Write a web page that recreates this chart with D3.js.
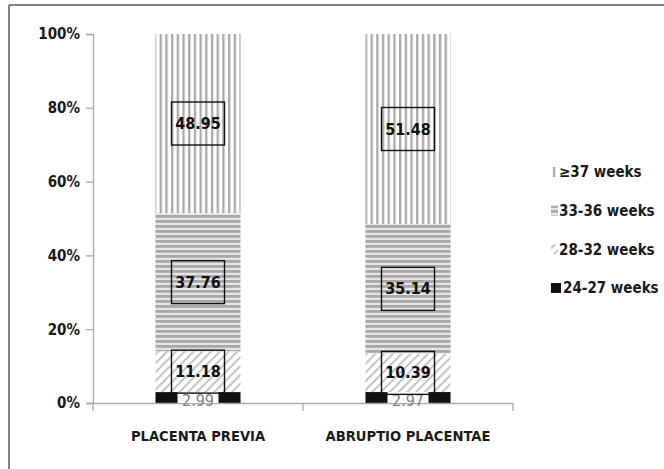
<!DOCTYPE html>
<html><head><meta charset="utf-8">
<script src="https://cdn.jsdelivr.net/npm/d3@7"></script>
<style>
body{margin:0;background:#fff;}
svg{display:block;}
text{font-family:"DejaVu Sans Condensed","DejaVu Sans",sans-serif;font-weight:bold;}
</style></head>
<body>
<svg id="chart" width="664" height="469"></svg>
<script>
const categories = ["PLACENTA PREVIA", "ABRUPTIO PLACENTAE"];
const seriesNames = ["24-27 weeks", "28-32 weeks", "33-36 weeks", "\u226537 weeks"];
const weeks24_27 = [2.99, 2.97];
const weeks28_32 = [11.18, 10.39];
const weeks33_36 = [37.76, 35.14];
const weeks37plus = [48.95, 51.48];
const yTicks = [0, 20, 40, 60, 80, 100];

const seriesValues = [weeks24_27, weeks28_32, weeks33_36, weeks37plus];
const table = categories.map((c, i) => {
  const row = {category: c};
  seriesNames.forEach((s, j) => row[s] = seriesValues[j][i]);
  return row;
});

const svg = d3.select("#chart");
const defs = svg.append("defs");

// patterns
const pV = defs.append("pattern").attr("id", "pV").attr("patternUnits", "userSpaceOnUse")
  .attr("width", 5.7).attr("height", 10);
pV.append("rect").attr("width", 5.7).attr("height", 10).attr("fill", "#fff");
pV.append("rect").attr("x", 0).attr("width", 2.3).attr("height", 10).attr("fill", "#a9a9a9");

const pH = defs.append("pattern").attr("id", "pH").attr("patternUnits", "userSpaceOnUse")
  .attr("width", 10).attr("height", 5);
pH.append("rect").attr("width", 10).attr("height", 5).attr("fill", "#e6e6e6");
pH.append("rect").attr("y", 0).attr("width", 10).attr("height", 2.8).attr("fill", "#a8a8a8");

const pD = defs.append("pattern").attr("id", "pD").attr("patternUnits", "userSpaceOnUse")
  .attr("width", 6.2).attr("height", 8).attr("patternTransform", "rotate(45)");
pD.append("rect").attr("width", 6.2).attr("height", 8).attr("fill", "#fff");
pD.append("rect").attr("x", 0).attr("width", 2).attr("height", 8).attr("fill", "#c4c4c4");

const fills = {"24-27 weeks": "#111", "28-32 weeks": "url(#pD)", "33-36 weeks": "url(#pH)", "\u226537 weeks": "url(#pV)"};

// frame
svg.append("line").attr("x1", 9).attr("y1", 5).attr("x2", 9).attr("y2", 469).attr("stroke", "#5a5a5a").attr("stroke-width", 1.5);
svg.append("line").attr("x1", 9).attr("y1", 5).attr("x2", 664).attr("y2", 5).attr("stroke", "#5a5a5a").attr("stroke-width", 1.5);

const x = d3.scaleBand().domain(categories).range([93, 513]).padding(0);
const y = d3.scaleLinear().domain([0, 1]).range([403, 34]);
const barW = x.bandwidth() * 0.405;

const stack = d3.stack().keys(seriesNames).offset(d3.stackOffsetExpand);
const series = stack(table);

const g = svg.append("g");
series.forEach(s => {
  g.selectAll(null).data(s).join("rect")
    .attr("x", d => x(d.data.category) + x.bandwidth() / 2 - barW / 2)
    .attr("width", barW)
    .attr("y", d => y(d[1]))
    .attr("height", d => y(d[0]) - y(d[1]))
    .attr("fill", fills[s.key]);
});

// y axis
const yAxisScale = d3.scaleLinear().domain([0, 100]).range([403, 34]);
const yAxis = svg.append("g").attr("transform", "translate(93,0)")
  .call(d3.axisLeft(yAxisScale).tickValues(yTicks).tickFormat(d => d + "%").tickSize(7).tickPadding(6));
yAxis.select(".domain").attr("stroke", "#aaa").attr("stroke-width", 1.3);
yAxis.selectAll(".tick line").attr("stroke", "#aaa").attr("stroke-width", 1.3);
yAxis.selectAll(".tick text").attr("fill", "#1a1a1a").style("font-size", "15px").attr("font-family", null);

// x axis
const xAxis = svg.append("g").attr("transform", "translate(0,403)")
  .call(d3.axisBottom(x).tickSize(0).tickPadding(28));
xAxis.select(".domain").attr("stroke", "#aaa").attr("stroke-width", 1.3);
xAxis.selectAll(".tick text").attr("fill", "#1a1a1a").style("font-size", "14.6px").attr("font-family", null);
// category separator ticks
const bounds = [x.range()[0]].concat(categories.map(c => x(c) + x.bandwidth()));
xAxis.selectAll(".sep").data(bounds).join("line").attr("class", "sep")
  .attr("x1", d => d).attr("x2", d => d).attr("y1", 0).attr("y2", 8)
  .attr("stroke", "#aaa").attr("stroke-width", 1.3);

// data labels
const lab = svg.append("g");
series.forEach((s, si) => {
  s.forEach(d => {
    const cx = x(d.data.category) + x.bandwidth() / 2;
    const cy = (y(d[0]) + y(d[1])) / 2;
    const v = d.data[s.key];
    if (si === 0) {
      lab.append("rect").attr("x", cx - 20.5).attr("y", y(d[1])).attr("width", 41).attr("height", y(d[0]) - y(d[1]))
        .attr("fill", "#fff");
      lab.append("text").attr("x", cx).attr("y", cy + 8).attr("text-anchor", "middle")
        .attr("fill", "#808080").style("font-weight", "normal").style("font-size", "16px").text(v.toFixed(2));
    } else {
      lab.append("rect").attr("x", cx - 26.5).attr("y", cy - 21.5).attr("width", 53).attr("height", 43)
        .attr("fill", "none").attr("stroke", "#111").attr("stroke-width", 1.4);
      lab.append("text").attr("x", cx).attr("y", cy).attr("dy", "0.35em").attr("text-anchor", "middle")
        .attr("fill", "#111").style("font-size", "16px").text(v.toFixed(2));
    }
  });
});

// legend
const legendOrder = seriesNames.slice().reverse();
const legendY = d3.scalePoint().domain(legendOrder).range([172, 288]);
const leg = svg.append("g");
legendOrder.forEach(k => {
  const cy = legendY(k);
  const isBlack = k === "24-27 weeks";
  leg.append("rect").attr("x", 551).attr("y", cy - 5).attr("width", isBlack ? 10 : 7).attr("height", 10)
    .attr("fill", fills[k]);
  leg.append("text").attr("x", isBlack ? 563 : 559).attr("y", cy).attr("dy", "0.35em")
    .attr("fill", "#1a1a1a").style("font-size", "15px").text(k);
});
</script>
</body></html>
